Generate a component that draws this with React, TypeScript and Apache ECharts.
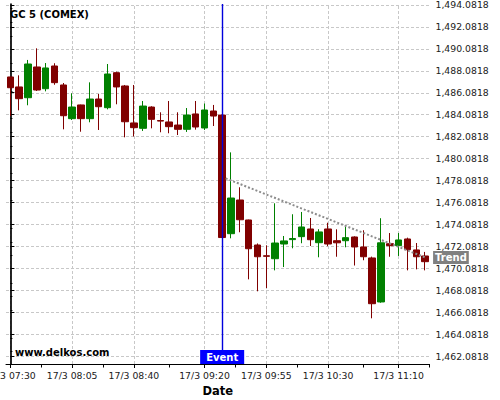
import React, { useEffect, useRef } from 'react';
import * as echarts from 'echarts';

const categories = [
  '17/3 07:30', '17/3 07:35', '17/3 07:40', '17/3 07:45', '17/3 07:50', '17/3 07:55',
  '17/3 08:00', '17/3 08:05', '17/3 08:10', '17/3 08:15', '17/3 08:20', '17/3 08:25',
  '17/3 08:30', '17/3 08:35', '17/3 08:40', '17/3 08:45', '17/3 08:50', '17/3 08:55',
  '17/3 09:00', '17/3 09:05', '17/3 09:10', '17/3 09:15', '17/3 09:20', '17/3 09:25',
  '17/3 09:30', '17/3 09:35', '17/3 09:40', '17/3 09:45', '17/3 09:50', '17/3 09:55',
  '17/3 10:00', '17/3 10:05', '17/3 10:10', '17/3 10:15', '17/3 10:20', '17/3 10:25',
  '17/3 10:30', '17/3 10:35', '17/3 10:40', '17/3 10:45', '17/3 10:50', '17/3 10:55',
  '17/3 11:00', '17/3 11:05', '17/3 11:10', '17/3 11:15', '17/3 11:20', '17/3 11:25',
];

const opens = [
  1487.52, 1486.61, 1485.63, 1488.43, 1486.45, 1488.52, 1486.79, 1483.72, 1484.97, 1483.72,
  1485.51, 1484.72, 1487.91, 1486.70, 1483.33, 1482.84, 1484.78, 1483.55, 1483.42, 1483.14,
  1482.75, 1484.15, 1482.87, 1484.42, 1484.05, 1473.24, 1476.31, 1474.49, 1472.21, 1471.23,
  1470.96, 1472.30, 1472.70, 1472.97, 1473.67, 1472.42, 1473.67, 1472.60, 1472.60, 1472.94,
  1472.03, 1471.03, 1467.02, 1472.33, 1472.15, 1472.76, 1471.76, 1471.21,
];
const closes = [
  1486.54, 1485.54, 1488.70, 1486.33, 1488.34, 1487.00, 1483.99, 1484.78, 1483.72, 1485.51,
  1484.81, 1487.79, 1486.61, 1483.44, 1482.90, 1484.87, 1483.66, 1483.50, 1482.99, 1482.75,
  1484.05, 1482.96, 1484.51, 1483.96, 1472.89, 1476.49, 1474.51, 1471.87, 1471.14, 1471.18,
  1472.39, 1472.58, 1472.80, 1473.85, 1472.69, 1473.40, 1472.30, 1472.41, 1472.88, 1472.03,
  1471.14, 1466.86, 1472.41, 1472.15, 1472.67, 1471.78, 1471.14, 1470.69,
];
const lows = [
  1483.96, 1484.48, 1484.94, 1486.24, 1486.21, 1486.81, 1482.75, 1483.60, 1482.53, 1483.39,
  1482.69, 1484.57, 1485.03, 1482.02, 1482.10, 1482.60, 1482.84, 1482.48, 1482.39, 1482.23,
  1482.51, 1482.72, 1482.69, 1483.05, 1472.85, 1472.82, 1473.37, 1469.08, 1467.99, 1468.29,
  1469.90, 1470.20, 1471.91, 1472.37, 1472.12, 1471.09, 1472.10, 1471.14, 1472.00, 1470.34,
  1470.82, 1465.53, 1466.95, 1471.14, 1471.21, 1469.90, 1469.99, 1469.90,
];
const highs = [
  1487.55, 1487.67, 1489.07, 1490.13, 1488.79, 1488.77, 1486.97, 1486.03, 1485.00, 1487.03,
  1485.97, 1488.70, 1488.00, 1486.79, 1486.79, 1485.33, 1484.85, 1484.30, 1485.33, 1484.30,
  1484.69, 1485.33, 1485.10, 1484.97, 1484.08, 1480.65, 1477.47, 1474.52, 1472.35, 1472.18,
  1476.01, 1473.03, 1475.01, 1475.22, 1474.67, 1473.65, 1474.24, 1473.64, 1473.88, 1473.00,
  1473.55, 1471.15, 1474.65, 1473.30, 1473.30, 1472.88, 1472.39, 1471.58,
];

const xLabelIdx = [0, 7, 14, 22, 29, 36, 44];
const xMidTicks = [3.5, 10.5, 18, 25.5, 32.5, 40, 47.5];
const yTicks = [
  1462.0818, 1464.0818, 1466.0818, 1468.0818, 1470.0818, 1472.0818, 1474.0818, 1476.0818,
  1478.0818, 1480.0818, 1482.0818, 1484.0818, 1486.0818, 1488.0818, 1490.0818, 1492.0818,
  1494.0818,
];
const yMin = 1461.367;
const yMax = 1494.168;
const eventIdx = 24;
const trendX = [24.4, 47];
const trendY = [1478.28, 1471.08];

const FONT = 'DejaVu Sans';
const GRID_STYLE = { color: '#c8c8c8', type: [3, 2], width: 1 };

function fmtPrice(v: number): string {
  const s = v.toFixed(4);
  const [i, d] = s.split('.');
  return i.replace(/\B(?=(\d{3})+(?!\d))/g, ',') + '.' + d;
}

export default function App() {
  const ref = useRef<HTMLDivElement>(null);
  useEffect(() => {
    const chart = echarts.init(ref.current!, null, { renderer: 'svg' });
    const candleData = opens.map((o, i) => [o, closes[i], lows[i], highs[i]]);
    const showIdx = (idx: number) => xLabelIdx.indexOf(idx) >= 0;
    const gridLines = [
      ...yTicks.map((v) => ({ yAxis: v })),
      ...xLabelIdx.map((i) => ({ xAxis: i })),
    ];
    chart.setOption({
      animation: false,
      backgroundColor: '#ffffff',
      title: [
        {
          text: 'GC 5 (COMEX)', left: 10, top: 9, padding: 0,
          textStyle: { fontFamily: FONT, fontSize: 10, fontWeight: 'bold', color: '#000' },
        },
        {
          text: 'www.delkos.com', left: 15, top: 347, padding: 0,
          textStyle: { fontFamily: FONT, fontSize: 10, fontWeight: 'bold', color: '#000' },
        },
      ],
      grid: { left: 6, right: 70.5, top: 4, bottom: 36, containLabel: false, outerBoundsMode: 'none' },
      xAxis: [
        {
          type: 'category',
          data: categories,
          boundaryGap: true,
          position: 'bottom',
          axisLine: { show: true, lineStyle: { color: '#000', width: 1 } },
          axisTick: { show: true, interval: (idx: number) => showIdx(idx), alignWithLabel: true, length: 4, lineStyle: { color: '#000' } },
          axisLabel: {
            show: true, interval: (idx: number) => showIdx(idx), margin: 7,
            fontFamily: FONT, fontSize: 9.3, color: '#1a1a1a',
          },
          splitLine: { show: false },
          name: 'Date',
          nameLocation: 'middle',
          nameGap: 20,
          nameTextStyle: { fontFamily: FONT, fontSize: 11.5, fontWeight: 'bold', color: '#000' },
        },
        {
          type: 'value',
          min: -0.5,
          max: 47.5,
          position: 'bottom',
          offset: 0,
          axisLine: { show: false },
          axisLabel: { show: false },
          splitLine: { show: false },
          axisTick: { show: true, customValues: xMidTicks, length: 3.5, lineStyle: { color: '#000' } },
        },
      ],
      yAxis: [
        {
          type: 'value',
          position: 'right',
          min: yMin,
          max: yMax,
          scale: true,
          axisLine: { show: true, lineStyle: { color: '#000', width: 1.7 } },
          axisTick: { show: true, customValues: yTicks, length: 4, lineStyle: { color: '#000' } },
          minorTick: { show: true, splitNumber: 4, length: 2, lineStyle: { color: '#000' } },
          axisLabel: {
            show: true, customValues: yTicks, margin: 6,
            showMinLabel: true, showMaxLabel: true,
            fontFamily: FONT, fontSize: 9.3, color: '#1a1a1a',
            formatter: (v: number) => fmtPrice(v),
          },
          splitLine: { show: false },
        },
      ],
      series: [
        {
          type: 'line',
          xAxisIndex: 0,
          yAxisIndex: 0,
          data: [],
          z: 0,
          silent: true,
          markLine: {
            silent: true,
            symbol: 'none',
            z: 0,
            label: { show: false },
            lineStyle: GRID_STYLE,
            emphasis: { disabled: true },
            data: gridLines,
          },
        },
        {
          type: 'candlestick',
          xAxisIndex: 0,
          yAxisIndex: 0,
          data: candleData,
          barWidth: 7,
          z: 3,
          itemStyle: {
            color: '#008000',
            color0: '#800000',
            borderColor: '#008000',
            borderColor0: '#800000',
            borderWidth: 1,
          },
          markLine: {
            silent: true,
            symbol: 'none',
            label: { show: false },
            lineStyle: { color: '#0000dd', width: 1.4, type: 'solid' },
            data: [{ xAxis: eventIdx }],
          },
          markPoint: {
            silent: true,
            symbol: 'rect',
            symbolSize: 0,
            data: [
              {
                coord: [eventIdx, yMin],
                label: {
                  show: true, position: 'top', distance: 0,
                  formatter: 'Event',
                  backgroundColor: '#0000ff',
                  color: '#ffffff',
                  fontFamily: FONT, fontSize: 10, fontWeight: 'bold',
                  padding: [1, 6, 1, 6], lineHeight: 12,
                },
              },
            ],
          },
        },
        {
          type: 'line',
          xAxisIndex: 1,
          yAxisIndex: 0,
          data: trendX.map((x, i) => [x, trendY[i]]),
          symbol: 'none',
          z: 6,
          lineStyle: { color: '#8c8c8c', width: 2, type: [2, 2] },
          endLabel: {
            show: true,
            formatter: 'Trend',
            distance: 8,
            backgroundColor: '#808080',
            color: '#ffffff',
            fontFamily: FONT, fontSize: 10, fontWeight: 'bold',
            padding: [1, 2, 1, 2], lineHeight: 11,
          },
        },
      ],
    });
    return () => chart.dispose();
  }, []);
  return <div ref={ref} style={{ position: 'fixed', left: 0, top: 0, width: 500, height: 400 }} />;
}
